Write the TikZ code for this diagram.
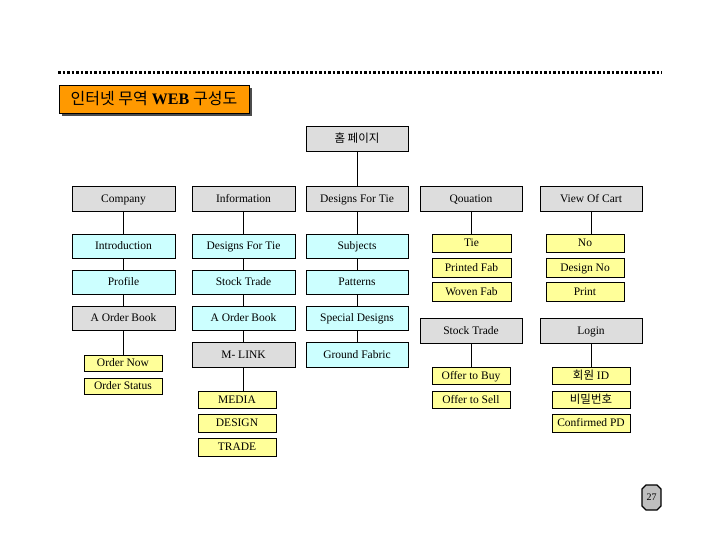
\documentclass[tikz,border=0pt]{standalone}
\usepackage{fontspec}
\setmainfont{Liberation Serif}
\newfontfamily\cjk{Noto Sans CJK KR}
\definecolor{gfill}{HTML}{DDDDDD}
\definecolor{cfill}{HTML}{CCFFFF}
\definecolor{yfill}{HTML}{FFFF99}
\definecolor{ofill}{HTML}{FF9900}
\tikzset{
  base/.style={draw=black, line width=0.8pt, inner sep=0pt, outer sep=0pt, text height=7.8pt, text depth=0pt, font=\fontsize{11.5}{13}\selectfont},
  gbox/.style={base, fill=gfill},
  cbox/.style={base, fill=cfill},
  ybox/.style={base, fill=yfill},
  conn/.style={draw=black, line width=0.8pt},
}
\newcommand\bx[7]{\node[#1, minimum width={(#5-#3)*1pt}, minimum height={(#6-#4)*1pt}] (#2) at ({(#3+#5)/2},{(#4+#6)/2}) {#7};}
\begin{document}
\begin{tikzpicture}[x=1pt,y=-1pt]
\useasboundingbox (0,0) rectangle (720,540);
% dotted rule
\draw[line width=3pt, dash pattern=on 2.5pt off 2pt] (58,73) -- (662,73);
% title
\fill[black!70] (62,88) rectangle (252,116);
\bx{base,fill=ofill,text height=11pt,text depth=0pt,font=\fontsize{16}{18}\selectfont}{title}{59}{85}{249}{113}{{\cjk 인터넷 무역} \textbf{WEB} {\cjk 구성도}}
% home
\bx{gbox}{home}{306}{126}{408}{151}{\cjk 홈 페이지}
% row 1
\bx{gbox}{company}{72}{186}{175}{211}{Company}
\bx{gbox}{info}{192}{186}{295}{211}{Information}
\bx{gbox}{dft}{306}{186}{408}{211}{Designs For Tie}
\bx{gbox}{quo}{420}{186}{522}{211}{Qouation}
\bx{gbox}{voc}{540}{186}{642}{211}{View Of Cart}
% column 1
\bx{cbox}{intro}{72}{234}{175}{258}{Introduction}
\bx{cbox}{profile}{72}{270}{175}{294}{Profile}
\bx{gbox}{aob1}{72}{306}{175}{330}{A Order Book}
\bx{ybox}{onow}{84}{355}{162}{371}{Order Now}
\bx{ybox}{ostat}{84}{378}{162}{394}{Order Status}
% column 2
\bx{cbox}{dft2}{192}{234}{295}{258}{Designs For Tie}
\bx{cbox}{st2}{192}{270}{295}{294}{Stock Trade}
\bx{cbox}{aob2}{192}{306}{295}{330}{A Order Book}
\bx{gbox}{mlink}{192}{342}{295}{367}{M- LINK}
\bx{ybox}{media}{198}{391}{276}{408}{MEDIA}
\bx{ybox}{design}{198}{414}{276}{432}{DESIGN}
\bx{ybox}{trade}{198}{438}{276}{456}{TRADE}
% column 3
\bx{cbox}{subj}{306}{234}{408}{258}{Subjects}
\bx{cbox}{patt}{306}{270}{408}{294}{Patterns}
\bx{cbox}{spec}{306}{306}{408}{330}{Special Designs}
\bx{cbox}{ground}{306}{342}{408}{367}{Ground Fabric}
% column 4
\bx{ybox}{tie}{432}{234}{511}{252}{Tie}
\bx{ybox}{pfab}{432}{258}{511}{277}{Printed Fab}
\bx{ybox}{wfab}{432}{282}{511}{301}{Woven Fab}
\bx{gbox}{st3}{420}{318}{522}{343}{Stock Trade}
\bx{ybox}{otb}{432}{367}{510}{384}{Offer to Buy}
\bx{ybox}{ots}{432}{391}{510}{408}{Offer to Sell}
% column 5
\bx{ybox}{no}{546}{234}{624}{252}{No}
\bx{ybox}{dno}{546}{258}{624}{277}{Design No}
\bx{ybox}{print}{546}{282}{624}{301}{Print}
\bx{gbox}{login}{540}{318}{642}{343}{Login}
\bx{ybox}{hid}{552}{367}{630}{384}{{\cjk 회원} ID}
\bx{ybox}{pw}{552}{391}{630}{408}{\cjk 비밀번호}
\bx{ybox}{cpd}{552}{414}{630}{432}{Confirmed PD}
% connectors
\draw[conn] (home) -- (dft);
\draw[conn] (company) -- (intro);
\draw[conn] (intro) -- (profile);
\draw[conn] (profile) -- (aob1);
\draw[conn] (aob1.south) -- (aob1.south |- onow.north);
\draw[conn] (info) -- (dft2);
\draw[conn] (dft2) -- (st2);
\draw[conn] (st2) -- (aob2);
\draw[conn] (aob2) -- (mlink);
\draw[conn] (mlink.south) -- (mlink.south |- media.north);
\draw[conn] (dft) -- (subj);
\draw[conn] (subj) -- (patt);
\draw[conn] (patt) -- (spec);
\draw[conn] (spec) -- (ground);
\draw[conn] (quo.south) -- (quo.south |- tie.north);
\draw[conn] (voc.south) -- (voc.south |- no.north);
\draw[conn] (st3.south) -- (st3.south |- otb.north);
\draw[conn] (login.south) -- (login.south |- hid.north);
% page number
\draw[fill=black!25, line width=1.2pt] (646,485) -- (657,485) -- (661,489) -- (661,506) -- (657,510) -- (646,510) -- (642,506) -- (642,489) -- cycle;
\node[font=\fontsize{10}{12}\selectfont] (pg) at (651.5,497.5) {27};
\end{tikzpicture}
\end{document}
